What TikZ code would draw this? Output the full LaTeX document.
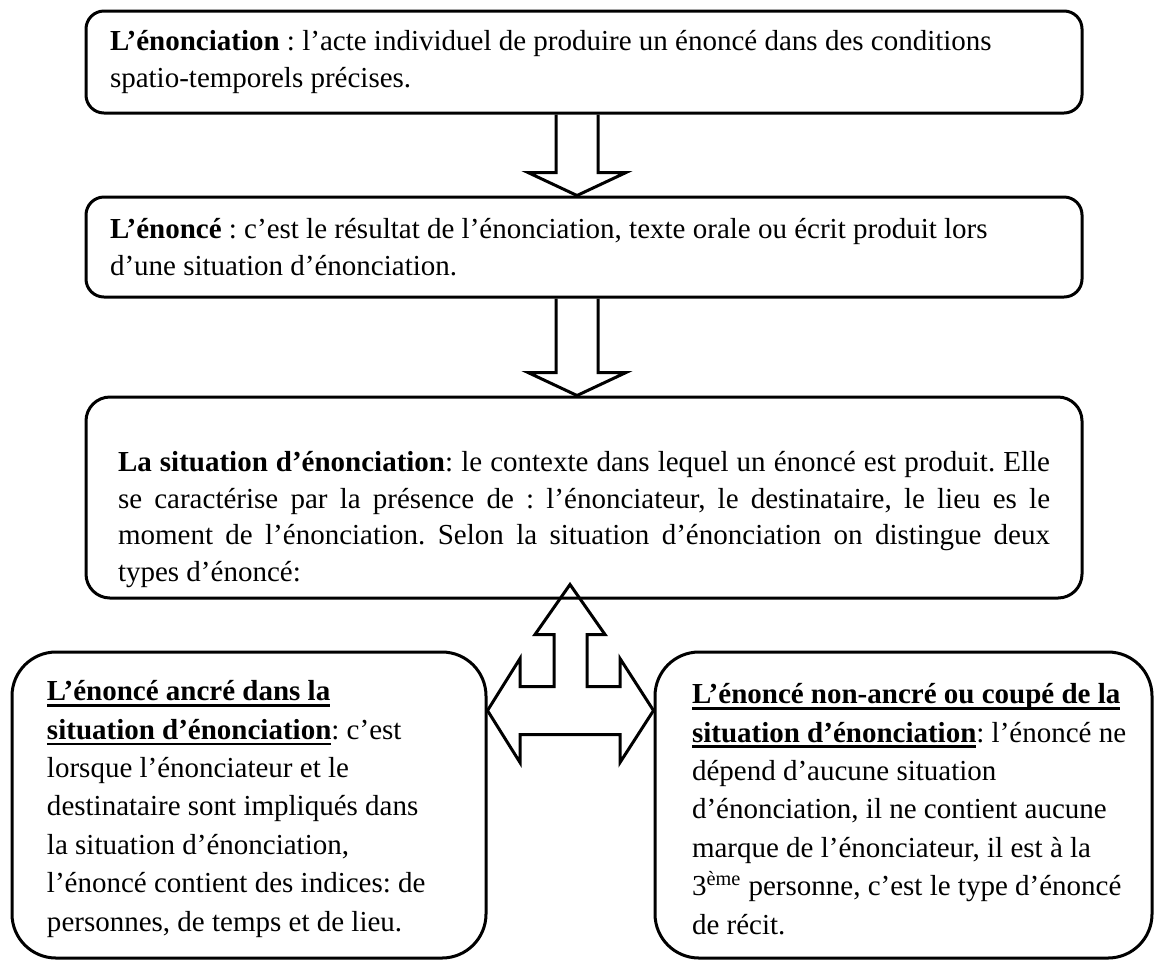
\documentclass[tikz,border=0pt]{standalone}
\usepackage{fontspec}
\setmainfont{Liberation Serif}
\usetikzlibrary{calc}
\newcommand{\souligne}[1]{\leavevmode\setbox0\hbox{#1}\rlap{\rule[-3pt]{\wd0}{1.3pt}}\box0}
\frenchspacing

\begin{document}
\begin{tikzpicture}[x=0.5pt,y=-0.5pt,
    boite/.style={draw,line width=1.5pt,inner xsep=0pt,inner ysep=0pt,align=flush left,
      font=\fontsize{14.5}{18.25}\selectfont},
    bas/.style={boite,rounded corners=22pt,minimum height=153pt,
      font=\fontsize{14.5}{19.2}\selectfont},
    retrait/.style={execute at begin node={\leftskip=#1\rule{0pt}{14pt}}},
    fleche/.style={draw,line width=1.5pt}]
  \useasboundingbox (0,0) rectangle (1154,960);
  \clip (0,0) rectangle (1154,960);

  \node[boite,rounded corners=9pt,minimum width=498pt,minimum height=51pt,text width=474pt] (enonciation) at (584,62)
    {\textbf{L’énonciation} : l’acte individuel de produire un énoncé dans des conditions\\spatio-temporels précises.};
  \node[boite,rounded corners=9pt,minimum width=498pt,minimum height=50pt,text width=474pt] (enonce) at (584,247)
    {\textbf{L’énoncé} : c’est le résultat de l’énonciation, texte orale ou écrit produit lors\\d’une situation d’énonciation.};
  \node[boite,rounded corners=12pt,minimum width=498pt,minimum height=100.5pt,text width=466pt,align=justify] (situation) at (584,497.5)
    {\rule{0pt}{32pt}\textbf{La situation d’énonciation}: le contexte dans lequel un énoncé est produit. Elle\linebreak
     se caractérise par la présence de : l’énonciateur, le destinataire, le lieu es le\linebreak
     moment de l’énonciation. Selon la situation d’énonciation on distingue deux\linebreak
     types d’énoncé:};
  \node[bas,retrait=11.5pt,minimum width=237pt,text width=225pt] (ancre) at (249,805)
    {\souligne{\textbf{L’énoncé ancré dans la}}\\
     \souligne{\textbf{situation d’énonciation}}: c’est\\
     lorsque l’énonciateur et le\\
     destinataire sont impliqués dans\\
     la situation d’énonciation,\\
     l’énoncé contient des indices: de\\
     personnes, de temps et de lieu.};
  \node[bas,retrait=11.75pt,minimum width=248.5pt,text width=235pt] (coupe) at (903.5,805)
    {\souligne{\textbf{L’énoncé non-ancré ou coupé de la}}\\
     \souligne{\textbf{situation d’énonciation}}: l’énoncé ne\\
     dépend d’aucune situation\\
     d’énonciation, il ne contient aucune\\
     marque de l’énonciateur, il est à la\\
     3\textsuperscript{ème} personne, c’est le type d’énoncé\\
     de récit.};

  \foreach \haut/\dessous in {enonciation/enonce,enonce/situation}{
    \path (\haut.south) ++(-7,0) coordinate (s) (s |- \dessous.north) coordinate (t) ($(t)+(0,-23)$) coordinate (b);
    \draw[fleche] ($(s)+(-21,0)$) -- ($(b)+(-21,0)$) -- ($(b)+(-49,0)$) -- (t) -- ($(b)+(49,0)$) -- ($(b)+(21,0)$) -- ($(s)+(21,0)$);
  }

  \coordinate (carrefour) at ($(situation.south)+(-14,111)$);
  \path (carrefour) ++(0,-126) coordinate (pointe)
    (ancre.east |- carrefour) coordinate (gauche)
    (coupe.west |- carrefour) coordinate (droite);
  \draw[fleche] (pointe) -- ($(carrefour)+(35,-76)$) -- ($(carrefour)+(17,-76)$) -- ($(carrefour)+(17,-24)$)
    -- ($(carrefour)+(50,-24)$) -- ($(carrefour)+(50,-52)$) -- (droite) -- ($(carrefour)+(50,52)$)
    -- ($(carrefour)+(50,24)$) -- ($(carrefour)+(-50,24)$) -- ($(carrefour)+(-50,52)$) -- (gauche)
    -- ($(carrefour)+(-50,-52)$) -- ($(carrefour)+(-50,-24)$) -- ($(carrefour)+(-16,-24)$)
    -- ($(carrefour)+(-16,-76)$) -- ($(carrefour)+(-35,-76)$) -- cycle;
\end{tikzpicture}
\end{document}
